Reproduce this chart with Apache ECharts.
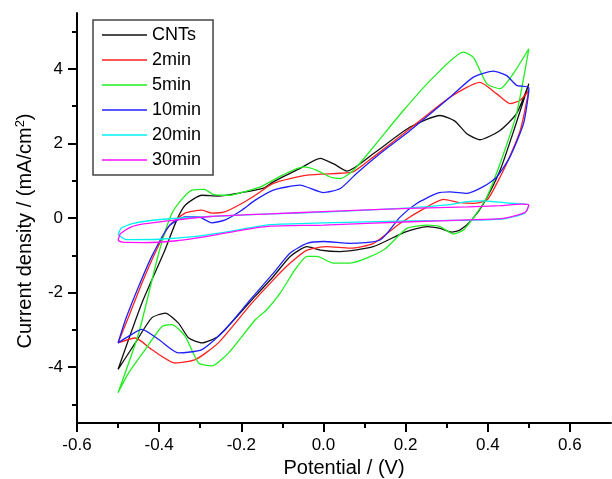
<!DOCTYPE html>
<html>
<head>
<meta charset="utf-8">
<script src="https://cdn.jsdelivr.net/npm/echarts@6/dist/echarts.min.js"></script>
<style>
  html, body { margin: 0; padding: 0; background: #fff; }
  #container { width: 612px; height: 479px; }
</style>
</head>
<body>
<div id="container"></div>
<script>
// tick values
var potentialTicks = [-0.6, -0.4, -0.2, 0, 0.2, 0.4, 0.6];
var potentialMinor = [-0.5, -0.3, -0.1, 0.1, 0.3, 0.5];
var currentTicks = [-4, -2, 0, 2, 4];
var currentMinor = [-5, -3, -1, 1, 3, 5];

var names = ['CNTs', '2min', '5min', '10min', '20min', '30min'];

// [potential V, current density mA/cm2], anodic sweep then back
var cnts = [
  [-0.5, -4.06], [-0.442, -2.28], [-0.389, -0.94], [-0.357, -0.05], [-0.336, 0.35],
  [-0.296, 0.61], [-0.256, 0.59], [-0.2, 0.68], [-0.146, 0.8], [-0.122, 0.97],
  [-0.057, 1.33], [-0.008, 1.6], [0.025, 1.45], [0.057, 1.26], [0.122, 1.73],
  [0.211, 2.44], [0.284, 2.75], [0.32, 2.6], [0.349, 2.26], [0.381, 2.1],
  [0.43, 2.35], [0.47, 2.8], [0.5, 3.6],
  [0.465, 2.4], [0.43, 1.28], [0.39, 0.39], [0.361, -0.05], [0.333, -0.32],
  [0.312, -0.38], [0.284, -0.28], [0.252, -0.23], [0.2, -0.37], [0.121, -0.77],
  [0.04, -0.9], [-0.008, -0.86], [-0.04, -0.77], [-0.081, -1.03], [-0.122, -1.57],
  [-0.178, -2.24], [-0.256, -3.17], [-0.296, -3.35], [-0.328, -3.22], [-0.353, -2.82],
  [-0.385, -2.55], [-0.418, -2.68], [-0.458, -3.35], [-0.5, -4.06]
];
var min2 = [
  [-0.5, -3.35], [-0.474, -2.64], [-0.442, -1.75], [-0.41, -0.94], [-0.377, -0.23],
  [-0.337, 0.13], [-0.296, 0.21], [-0.272, 0.13], [-0.239, 0.17], [-0.199, 0.39],
  [-0.166, 0.61], [-0.122, 0.93], [-0.04, 1.15], [0.041, 1.2], [0.073, 1.24],
  [0.122, 1.64], [0.211, 2.4], [0.308, 3.24], [0.381, 3.64], [0.422, 3.33],
  [0.454, 3.07], [0.479, 3.16], [0.5, 3.42],
  [0.479, 2.35], [0.446, 1.46], [0.422, 0.93], [0.398, 0.48], [0.365, 0.39],
  [0.333, 0.41], [0.292, 0.5], [0.252, 0.3], [0.187, -0.14], [0.122, -0.68],
  [0.065, -0.81], [0.008, -0.77], [-0.04, -0.86], [-0.081, -1.21], [-0.122, -1.66],
  [-0.178, -2.33], [-0.256, -3.35], [-0.312, -3.8], [-0.361, -3.89], [-0.418, -3.53],
  [-0.458, -3.22], [-0.5, -3.35]
];
var min5 = [
  [-0.5, -4.69], [-0.45, -3.1], [-0.4, -0.9], [-0.37, 0.1], [-0.345, 0.5],
  [-0.32, 0.75], [-0.29, 0.77], [-0.268, 0.63], [-0.227, 0.61], [-0.2, 0.68],
  [-0.15, 0.85], [-0.1, 1.15], [-0.049, 1.37], [-0.016, 1.28], [0.016, 1.1],
  [0.041, 1.06], [0.073, 1.28], [0.122, 1.91], [0.195, 2.89], [0.268, 3.78],
  [0.341, 4.45], [0.365, 4.31], [0.398, 3.6], [0.43, 3.47], [0.462, 3.87], [0.5, 4.54],
  [0.47, 2.8], [0.43, 1.46], [0.398, 0.57], [0.373, 0.13], [0.341, -0.32],
  [0.316, -0.43], [0.284, -0.23], [0.252, -0.19], [0.203, -0.28], [0.146, -0.86],
  [0.065, -1.21], [0.024, -1.21], [-0.016, -1.03], [-0.04, -1.03], [-0.07, -1.4],
  [-0.105, -2.01], [-0.138, -2.46], [-0.166, -2.73], [-0.231, -3.62], [-0.272, -3.97],
  [-0.304, -3.89], [-0.337, -3.17], [-0.369, -2.86], [-0.393, -2.91], [-0.434, -3.53],
  [-0.474, -4.15], [-0.5, -4.69]
];
var min10 = [
  [-0.5, -3.35], [-0.482, -2.73], [-0.45, -1.84], [-0.418, -1.03], [-0.377, -0.23],
  [-0.337, 0.03], [-0.304, 0.03], [-0.272, -0.13], [-0.239, -0.05], [-0.199, 0.21],
  [-0.166, 0.48], [-0.122, 0.75], [-0.057, 0.88], [0.0, 0.68], [0.041, 0.79],
  [0.081, 1.2], [0.138, 1.73], [0.211, 2.35], [0.308, 3.24], [0.365, 3.78],
  [0.414, 3.94], [0.446, 3.82], [0.47, 3.56], [0.5, 3.49],
  [0.487, 2.53], [0.454, 1.64], [0.422, 1.1], [0.389, 0.84], [0.349, 0.66],
  [0.308, 0.7], [0.276, 0.66], [0.227, 0.39], [0.187, 0.03], [0.138, -0.59],
  [0.065, -0.68], [0.0, -0.63], [-0.04, -0.68], [-0.081, -0.94], [-0.122, -1.48],
  [-0.178, -2.19], [-0.239, -2.99], [-0.296, -3.53], [-0.353, -3.62], [-0.401, -3.26],
  [-0.442, -2.99], [-0.474, -3.17], [-0.5, -3.35]
];
var min20 = [
  [-0.5, -0.45], [-0.492, -0.27], [-0.465, -0.15], [-0.397, -0.04], [-0.276, 0.04],
  [-0.13, 0.11], [0.0, 0.16], [0.211, 0.27], [0.3, 0.35], [0.35, 0.44],
  [0.39, 0.46], [0.45, 0.4], [0.5, 0.35],
  [0.49, 0.13], [0.44, -0.02], [0.35, -0.06], [0.211, -0.08], [0.0, -0.13],
  [-0.13, -0.18], [-0.235, -0.37], [-0.316, -0.5], [-0.4, -0.57], [-0.48, -0.58],
  [-0.5, -0.45]
];
var min30 = [
  [-0.5, -0.6], [-0.494, -0.42], [-0.47, -0.25], [-0.438, -0.16], [-0.357, -0.05],
  [-0.276, 0.04], [-0.13, 0.11], [0.0, 0.17], [0.211, 0.26], [0.35, 0.3],
  [0.43, 0.33], [0.48, 0.37], [0.5, 0.35],
  [0.495, 0.2], [0.487, 0.13], [0.438, -0.01], [0.35, -0.05], [0.211, -0.1],
  [0.0, -0.19], [-0.13, -0.22], [-0.195, -0.32], [-0.276, -0.48], [-0.357, -0.61],
  [-0.438, -0.66], [-0.49, -0.65], [-0.5, -0.6]
];

var colors = ['#111111', '#ff2020', '#22ee22', '#2020ff', '#00f0f0', '#ff10ff'];
var curves = [cnts, min2, min5, min10, min20, min30];

var font = 'Liberation Sans, Arial, sans-serif';

var dom = document.getElementById('container');
var myChart = echarts.init(dom, null, { renderer: 'canvas' });

var series = curves.map(function (d, i) {
  return {
    name: names[i],
    type: 'line',
    data: d,
    symbol: 'none',
    smooth: 0.2,
    xAxisIndex: 0,
    yAxisIndex: 0,
    lineStyle: { color: colors[i], width: 1.3 },
    itemStyle: { color: colors[i] }
  };
});

var option = {
  animation: false,
  backgroundColor: '#fff',
  grid: {
    left: 77,
    right: 1,
    top: 13,
    bottom: 56,
    containLabel: false,
    outerBoundsMode: 'none'
  },
  legend: {
    orient: 'vertical',
    left: 93,
    top: 20,
    data: names,
    icon: 'path://M0,0 L45,0 L45,1.6 L0,1.6 Z',
    itemWidth: 45,
    itemHeight: 14,
    itemGap: 7,
    padding: [6, 12, 6, 9],
    borderColor: '#444',
    borderWidth: 1.5,
    textStyle: { fontSize: 18, color: '#000', fontFamily: font }
  },
  xAxis: [{
    type: 'value',
    min: -0.6,
    max: 0.7,
    position: 'bottom',
    name: 'Potential / (V)',
    nameLocation: 'middle',
    nameGap: 34,
    nameTextStyle: { fontSize: 20, color: '#000', fontFamily: font },
    axisLine: { onZero: false, lineStyle: { color: '#000', width: 2 } },
    axisTick: { customValues: potentialTicks, length: 9, lineStyle: { color: '#000', width: 2 } },
    axisLabel: {
      customValues: potentialTicks,
      margin: 14,
      fontSize: 17,
      color: '#000',
      fontFamily: font,
      formatter: function (v) { return v.toFixed(1); }
    },
    splitLine: { show: false }
  }, {
    type: 'value',
    min: -0.6,
    max: 0.7,
    position: 'bottom',
    axisLine: { show: false, onZero: false },
    axisTick: { customValues: potentialMinor, length: 5, lineStyle: { color: '#000', width: 2 } },
    axisLabel: { show: false },
    splitLine: { show: false }
  }],
  yAxis: [{
    type: 'value',
    min: -5.5,
    max: 5.5,
    position: 'left',
    name: 'Current density / (mA/cm{sup|2})',
    nameLocation: 'middle',
    nameGap: 41,
    nameTextStyle: {
      fontSize: 20,
      color: '#000',
      fontFamily: font,
      padding: [0, 26, 0, 0],
      rich: {
        sup: { fontSize: 13, color: '#000', fontFamily: font, padding: [0, 0, 9, 0] }
      }
    },
    axisLine: { onZero: false, lineStyle: { color: '#000', width: 2 } },
    axisTick: { customValues: currentTicks, length: 9, lineStyle: { color: '#000', width: 2 } },
    axisLabel: {
      customValues: currentTicks,
      margin: 14,
      fontSize: 17,
      color: '#000',
      fontFamily: font
    },
    splitLine: { show: false }
  }, {
    type: 'value',
    min: -5.5,
    max: 5.5,
    position: 'left',
    axisLine: { show: false, onZero: false },
    axisTick: { customValues: currentMinor, length: 5, lineStyle: { color: '#000', width: 2 } },
    axisLabel: { show: false },
    splitLine: { show: false }
  }],
  series: series
};

myChart.setOption(option);
</script>
</body>
</html>
